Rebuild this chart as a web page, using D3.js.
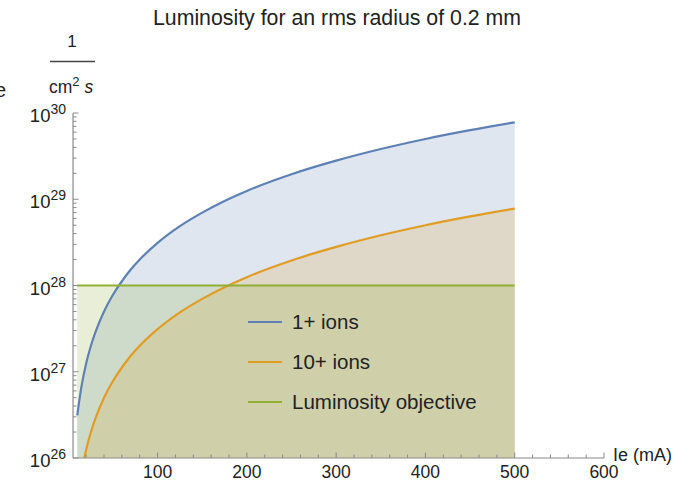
<!DOCTYPE html>
<html>
<head>
<meta charset="utf-8">
<script src="https://cdn.jsdelivr.net/npm/d3@7"></script>
<style>
  body { margin: 0; background: #fff; }
  text { font-family: "Liberation Sans", Arial, sans-serif; }
</style>
</head>
<body>
<div id="chart"></div>
<script>
// data (Ie in mA, luminosity in 1/(cm^2 s))
var ieValues = [10, 15, 20, 25, 30, 40, 50, 60, 70, 80, 100, 125, 150, 175, 200, 250, 300, 350, 400, 450, 500];
var ions1Values = [3.12e26, 7.0e26, 1.25e27, 1.95e27, 2.8e27, 5.0e27, 7.8e27, 1.12e28, 1.53e28, 2.0e28, 3.12e28,
  4.88e28, 7.0e28, 9.56e28, 1.25e29, 1.95e29, 2.8e29, 3.82e29, 5.0e29, 6.32e29, 7.8e29];
var ions10Values = [3.12e25, 7.0e25, 1.25e26, 1.95e26, 2.8e26, 5.0e26, 7.8e26, 1.12e27, 1.53e27, 2.0e27, 3.12e27,
  4.88e27, 7.0e27, 9.56e27, 1.25e28, 1.95e28, 2.8e28, 3.82e28, 5.0e28, 6.32e28, 7.8e28];
var objectiveValue = 1e28;
var seriesNames = ["1+ ions", "10+ ions", "Luminosity objective"];
var seriesColors = ["#5e81b5", "#e19c24", "#8fb032"];
var xTickValues = [100, 200, 300, 400, 500, 600];
var yTickPowers = [26, 27, 28, 29, 30];

var width = 680, height = 482;

var svg = d3.select("#chart").append("svg")
  .attr("width", width)
  .attr("height", height);

var x = d3.scaleLinear().domain([0, 600]).range([68.3, 604]);
var y = d3.scaleLog().domain([1e26, 1e30]).range([458, 113]);
var xStart = 5.3;

// clip for the plot region
svg.append("clipPath").attr("id", "plotClip")
  .append("rect")
  .attr("x", x(xStart)).attr("y", y(1e30))
  .attr("width", x(600) - x(xStart)).attr("height", y(1e26) - y(1e30));

var plot = svg.append("g").attr("clip-path", "url(#plotClip)");

var series = [
  ieValues.map(function (d, i) { return { ie: d, lum: ions1Values[i] }; }),
  ieValues.map(function (d, i) { return { ie: d, lum: ions10Values[i] }; }),
  [{ ie: ieValues[0], lum: objectiveValue }, { ie: ieValues[ieValues.length - 1], lum: objectiveValue }]
];

var area = d3.area()
  .x(function (d) { return x(d.ie); })
  .y0(y(1e26))
  .y1(function (d) { return y(d.lum); })
  .curve(d3.curveMonotoneX);

var line = d3.line()
  .x(function (d) { return x(d.ie); })
  .y(function (d) { return y(d.lum); })
  .curve(d3.curveMonotoneX);

// fills (to the axis)
series.forEach(function (s, i) {
  plot.append("path")
    .attr("d", area(s))
    .attr("fill", seriesColors[i])
    .attr("fill-opacity", 0.2);
});

// lines
series.forEach(function (s, i) {
  plot.append("path")
    .attr("d", line(s))
    .attr("fill", "none")
    .attr("stroke", seriesColors[i])
    .attr("stroke-width", 2.2);
});

// axes, Mathematica style: ticks pointing inward
var axisColor = "#8a8a8a";
var xAxis = svg.append("g");
xAxis.append("line")
  .attr("x1", x(xStart)).attr("x2", x(600))
  .attr("y1", y(1e26)).attr("y2", y(1e26))
  .attr("stroke", axisColor).attr("stroke-width", 1.2);

var xMinor = d3.range(20, 601, 20);
xAxis.selectAll(".xt").data(xMinor).enter().append("line")
  .attr("x1", function (d) { return x(d); }).attr("x2", function (d) { return x(d); })
  .attr("y1", y(1e26))
  .attr("y2", function (d) { return y(1e26) - (d % 100 === 0 ? 5.5 : 3.5); })
  .attr("stroke", axisColor).attr("stroke-width", 1);

xAxis.selectAll(".xl").data(xTickValues).enter().append("text")
  .attr("x", function (d) { return x(d); })
  .attr("y", 478)
  .attr("text-anchor", "middle")
  .attr("font-size", 17.5)
  .attr("fill", "#222")
  .text(function (d) { return d; });

svg.append("text")
  .attr("x", 613).attr("y", 461)
  .attr("font-size", 18)
  .attr("fill", "#222")
  .text("Ie (mA)");

var yAxis = svg.append("g");
yAxis.append("line")
  .attr("x1", x(xStart)).attr("x2", x(xStart))
  .attr("y1", y(1e26)).attr("y2", y(1e30))
  .attr("stroke", axisColor).attr("stroke-width", 1.2);

var yMinor = [];
yTickPowers.forEach(function (p) {
  if (p < 30) {
    for (var k = 2; k <= 9; k++) yMinor.push(k * Math.pow(10, p));
  }
});
yAxis.selectAll(".ym").data(yMinor).enter().append("line")
  .attr("x1", x(xStart)).attr("x2", x(xStart) + 3.5)
  .attr("y1", function (d) { return y(d); }).attr("y2", function (d) { return y(d); })
  .attr("stroke", axisColor).attr("stroke-width", 1);
yAxis.selectAll(".yM").data(yTickPowers).enter().append("line")
  .attr("x1", x(xStart)).attr("x2", x(xStart) + 5.5)
  .attr("y1", function (d) { return y(Math.pow(10, d)); }).attr("y2", function (d) { return y(Math.pow(10, d)); })
  .attr("stroke", axisColor).attr("stroke-width", 1);

var yLabels = yAxis.selectAll(".yl").data(yTickPowers).enter().append("text")
  .attr("x", 66)
  .attr("y", function (d) { return y(Math.pow(10, d)) + 9; })
  .attr("text-anchor", "end")
  .attr("font-size", 18.5)
  .attr("fill", "#222");
yLabels.append("tspan").text("10");
yLabels.append("tspan").attr("dy", -8).attr("font-size", 14).text(function (d) { return d; });

// y label: 1 / (cm^2 s)
var yLab = svg.append("g").attr("fill", "#222");
yLab.append("text").attr("x", 72).attr("y", 47).attr("text-anchor", "middle")
  .attr("font-size", 17).text("1");
yLab.append("line").attr("x1", 50).attr("x2", 95).attr("y1", 61.5).attr("y2", 61.5)
  .attr("stroke", "#444").attr("stroke-width", 1.4);
var den = yLab.append("text").attr("x", 49).attr("y", 93).attr("font-size", 17.5);
den.append("tspan").text("cm");
den.append("tspan").attr("dy", -7).attr("font-size", 13).text("2");
den.append("tspan").attr("dy", 7).attr("font-style", "italic").text(" s");

// clipped letter at the left edge (cut off in the original too)
svg.append("text").attr("x", -5).attr("y", 97).attr("font-size", 20).attr("fill", "#222").text("e");

// title
svg.append("text")
  .attr("x", 337).attr("y", 25)
  .attr("text-anchor", "middle")
  .attr("font-size", 21.3)
  .attr("fill", "#222")
  .text("Luminosity for an rms radius of 0.2 mm");

// legend
var legend = svg.append("g");
seriesNames.forEach(function (name, i) {
  var ly = 322 + i * 40;
  legend.append("line")
    .attr("x1", 248).attr("x2", 282).attr("y1", ly).attr("y2", ly)
    .attr("stroke", seriesColors[i]).attr("stroke-width", 2.2);
  legend.append("text")
    .attr("x", 292).attr("y", ly + 7)
    .attr("font-size", 20.5)
    .attr("fill", "#222")
    .text(name);
});
</script>
</body>
</html>
